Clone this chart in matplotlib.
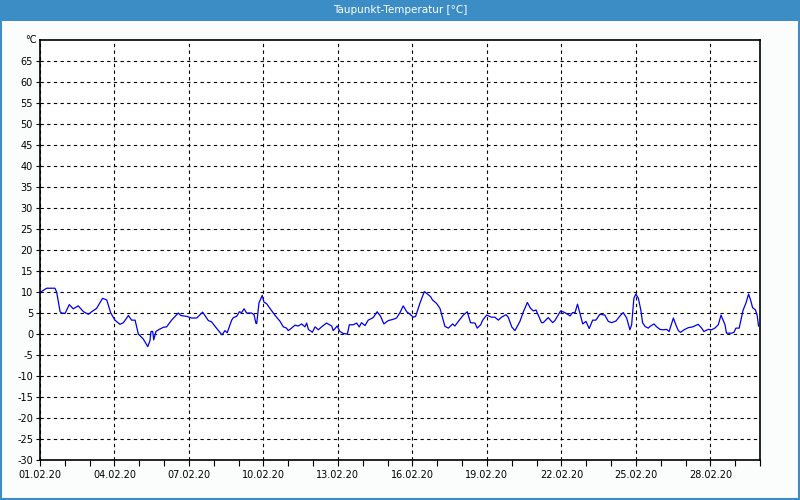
import datetime as dt
import numpy as np
import matplotlib
matplotlib.use('Agg')
from matplotlib import pyplot as plt
import matplotlib.dates as mdates
from matplotlib.patches import Rectangle

# Zeit in Tagen ab 01.02.2020 00:00, Taupunkt in °C
days=[0.03,0.27,0.60,0.67,0.81,0.87,1.01,1.18,1.34,1.54,1.75,1.95,2.08,2.28,2.52,2.69,
      2.85,3.02,3.22,3.36,3.56,3.69,3.83,3.96,4.16,4.34,4.43,4.47,4.54,4.58,4.67,4.77,
      4.97,5.10,5.30,5.57,5.67,5.91,6.11,6.31,6.55,6.78,6.91,7.12,7.33,7.45,7.54,7.72,
      7.79,7.92,8.03,8.12,8.22,8.32,8.52,8.62,8.70,8.73,8.82,8.95,9.02,9.13,9.26,9.46,
      9.67,9.80,9.93,10.00,10.13,10.27,10.40,10.54,10.67,10.74,10.81,10.97,11.08,11.21,
      11.34,11.54,11.75,11.81,11.97,12.08,12.22,12.38,12.46,12.62,12.75,12.86,12.95,13.09,
      13.22,13.42,13.58,13.72,13.85,14.03,14.23,14.36,14.50,14.63,14.77,14.90,15.04,15.13,
      15.30,15.48,15.57,15.73,15.81,15.97,16.11,16.31,16.45,16.62,16.71,16.85,17.05,17.21,
      17.34,17.52,17.61,17.75,17.83,17.99,18.19,18.32,18.46,18.59,18.77,18.86,19.00,19.13,
      19.33,19.47,19.63,19.76,19.87,19.98,20.20,20.27,20.47,20.65,20.74,20.97,21.14,21.35,
      21.45,21.55,21.65,21.75,21.86,21.99,22.12,22.26,22.39,22.55,22.75,22.89,23.02,23.20,
      23.36,23.49,23.63,23.76,23.83,23.92,24.00,24.10,24.20,24.27,24.37,24.50,24.57,24.73,
      24.84,24.97,25.10,25.24,25.34,25.51,25.61,25.71,25.80,25.94,26.11,26.29,26.51,26.65,
      26.74,26.92,27.05,27.18,27.32,27.43,27.59,27.65,27.86,27.95,28.03,28.16,28.32,28.43,
      28.54,28.62,28.70,28.82,28.89,28.94]
taupunkt=[10.0,10.9,10.9,10.0,5.3,5.0,4.9,7.0,6.0,6.7,5.3,4.7,5.3,6.1,8.5,8.1,
          5.0,3.3,2.3,2.7,4.4,3.3,3.3,0.0,-1.2,-3.0,-1.6,0.6,0.6,-1.4,0.6,1.0,
          1.6,1.7,3.3,5.0,4.4,4.2,3.8,3.8,5.2,3.2,2.9,1.3,-0.2,0.8,0.3,3.3,
          3.9,4.2,5.3,5.1,6.0,5.0,5.0,4.6,2.5,2.5,7.4,9.2,7.6,7.2,6.1,4.5,
          3.0,1.7,1.4,0.8,1.4,2.1,1.9,2.4,1.7,2.6,1.1,0.4,1.7,1.0,
          1.7,2.6,1.9,0.8,1.9,0.6,0.1,0.0,2.2,2.2,2.6,1.7,2.7,2.0,
          3.3,3.9,5.3,4.2,2.4,3.2,3.5,3.8,5.1,6.7,5.3,4.7,4.0,4.2,
          7.3,10.1,9.7,8.9,8.1,7.3,6.1,1.8,1.4,2.4,1.9,3.0,4.5,5.3,
          2.7,2.6,1.4,2.2,3.3,4.5,4.0,4.0,3.3,4.0,4.6,4.0,1.7,0.8,
          3.0,5.3,7.5,6.1,5.5,5.7,2.7,2.7,3.9,2.7,3.2,5.5,5.1,4.3,
          5.1,5.1,7.1,4.9,2.4,3.0,1.3,3.3,3.3,4.7,4.5,3.0,2.7,3.1,
          4.3,5.1,3.8,1.0,2.2,8.5,9.5,8.5,5.7,2.7,1.8,1.4,1.8,2.4,
          1.7,1.1,1.0,1.1,0.6,3.8,2.2,0.8,0.4,1.0,1.5,1.7,2.3,1.4,
          0.6,1.1,1.0,1.4,2.2,4.5,2.2,0.2,0.2,0.4,1.4,1.4,5.7,7.3,
          9.5,8.1,6.3,5.7,4.3,1.9]
yticks=list(range(-30,70,5))
titel='Taupunkt-Temperatur [°C]'

start=dt.datetime(2020,2,1)
ende=dt.datetime(2020,3,1)
zeit=[start+dt.timedelta(days=d) for d in days]

plt.rcParams['font.family']=['DejaVu Sans']
fig=plt.figure(figsize=(8,5),dpi=100)
fig.patch.set_facecolor('#fbfdfc')

# Titelleiste und Rahmen
fig.patches.append(Rectangle((0,0.959),1,0.041,transform=fig.transFigure,
                             facecolor='#3c8dc5',edgecolor='none',zorder=0))
fig.patches.append(Rectangle((0.001,0.002),0.998,0.99,transform=fig.transFigure,
                             facecolor='none',edgecolor='#3c8dc5',lw=1.5,zorder=0))
fig.text(0.5,0.98,titel,ha='center',va='center',color='white',fontsize=7.5)

ax=fig.add_axes([0.05,0.08,0.90,0.84])
ax.set_facecolor('white')
ax.plot(zeit,taupunkt,color='#0000ee',lw=0.9)

ax.set_xlim(start,ende)
ax.set_ylim(-30,70)
ax.set_yticks(yticks)
ax.set_yticklabels([str(v) for v in yticks])
ax.text(-0.004,1.0,'°C',transform=ax.transAxes,ha='right',va='center',fontsize=7)

ax.xaxis.set_minor_locator(mdates.DayLocator())
# 01.03. nicht beschriften
xt=mdates.date2num([start+dt.timedelta(days=i) for i in range(0,28,3)])
ax.set_xticks(xt)
ax.set_xticklabels([(start+dt.timedelta(days=i)).strftime('%d.%m.%y') for i in range(0,28,3)])

ax.tick_params(axis='both',which='major',labelsize=7,length=4,width=0.8,direction='out',pad=3)
ax.tick_params(axis='y',which='major',length=3,pad=2)
ax.tick_params(axis='x',which='minor',length=4,width=0.8)
ax.grid(True,which='major',color='black',linestyle=(0,(3,3)),lw=0.8)
for s in ax.spines.values():
    s.set_linewidth(1.2)
    s.set_color('black')

plt.savefig('out.png',dpi=100,facecolor=fig.get_facecolor())
